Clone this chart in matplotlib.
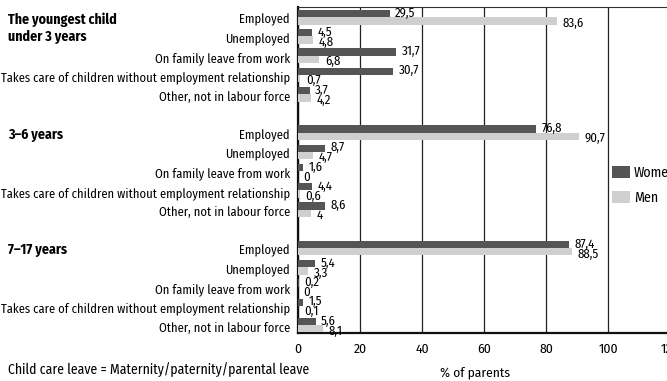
import numpy as np
import matplotlib
matplotlib.use("Agg")
import matplotlib.pyplot as plt
from matplotlib import transforms

# data
categories = ['Employed', 'Unemployed', 'On family leave from work',
              'Takes care of children without employment relationship',
              'Other, not in labour force']
groups = ['The youngest child\nunder 3 years', '3–6 years', '7–17 years']
women = [[29.5, 4.5, 31.7, 30.7, 3.7],
         [76.8, 8.7, 1.6, 4.4, 8.6],
         [87.4, 5.4, 0.2, 1.5, 5.6]]
men = [[83.6, 4.8, 6.8, 0.7, 4.2],
       [90.7, 4.7, 0, 0.6, 4],
       [88.5, 3.3, 0, 0.1, 8.1]]
xticks = [0, 20, 40, 60, 80, 100, 120]

plt.rcParams['font.family'] = ['Fira Sans Condensed', 'DejaVu Sans']
plt.rcParams['font.size'] = 9

dark = '#555555'
light = '#cfcfcf'

fig = plt.figure(figsize=(6.67, 3.81), dpi=100)
ax = fig.add_axes([0.447, 0.126, 0.5575, 0.856])

def fmt(v):
    return f'{v:g}'.replace('.', ',')

rows = []
for g in range(len(groups)):
    for c in range(len(categories)):
        rows.append(g * 6 + c)
rows = np.array(rows)
w_vals = np.array(women).ravel()
m_vals = np.array(men).ravel()

h = 0.38
ax.barh(rows - 0.27, w_vals, height=h, color=dark, zorder=3, label='Women')
ax.barh(rows + 0.11, m_vals, height=h, color=light, zorder=3, label='Men')

for r, wv, mv in zip(rows, w_vals, m_vals):
    ax.annotate(fmt(wv), (wv, r - 0.3), xytext=(4, 0), textcoords='offset points',
                va='center', ha='left', fontsize=9.2, zorder=4)
    ax.annotate(fmt(mv), (mv, r + 0.22), xytext=(4, 0), textcoords='offset points',
                va='center', ha='left', fontsize=9.2, zorder=4)

ax.set_yticks(rows)
ax.set_yticklabels(categories * len(groups), fontsize=9)
ax.set_ylim(rows.max() + 0.33, -0.62)
ax.set_xlim(0, 120)
ax.set_xticks(xticks)
ax.tick_params(axis='x', labelsize=9.8, pad=7)
ax.tick_params(axis='both', length=0)
ax.tick_params(axis='y', pad=6)
ax.grid(axis='x', color='#222222', linewidth=0.9, zorder=0)
for side in ['left', 'bottom']:
    ax.spines[side].set_linewidth(1.6)
    ax.spines[side].set_color('#111111')
ax.spines['top'].set_linewidth(0.8)
ax.spines['top'].set_color('#333333')
ax.spines['right'].set_visible(False)

# group titles
tr = transforms.blended_transform_factory(fig.transFigure, ax.transData)
for g, name in enumerate(groups):
    fig.text(8 / 667, g * 6 - 0.35, name, transform=tr, fontsize=10,
             fontweight='bold', va='top', ha='left', linespacing=1.3)

ax.legend(loc='upper left', bbox_to_anchor=(0.83, 0.53), frameon=False,
          handlelength=1.3, handleheight=0.9, handletextpad=0.25,
          fontsize=10, labelspacing=0.75, borderaxespad=0)

fig.text(8 / 667, 1 - 370 / 381, 'Child care leave = Maternity/paternity/parental leave',
         fontsize=9.9, va='center', ha='left')
fig.text(475 / 667, 1 - 373 / 381, '% of parents', fontsize=9.7, va='center', ha='center')

fig.savefig('out.png', dpi=100)
